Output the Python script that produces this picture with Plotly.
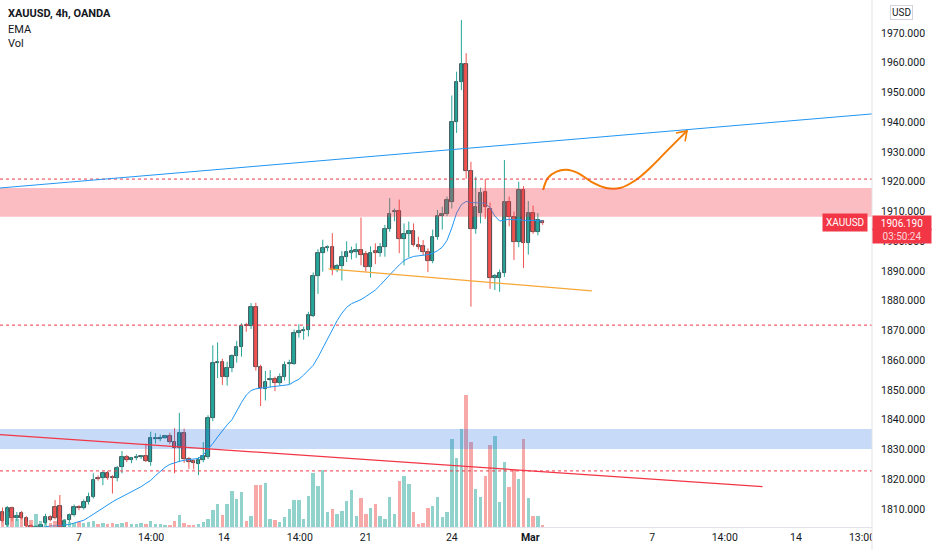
import plotly.graph_objects as go

# XAUUSD 4h bars, x = bar number from the left edge of the chart
opens = [
    1809, 1804.5, 1810.3, 1807, 1808.6, 1807, 1804.2, 1803.2, 1804, 1805.3,
    1807.3, 1810.7, 1811, 1804, 1806.3, 1808, 1810.7, 1810.3, 1812.3, 1814,
    1820.4, 1820.4, 1822, 1820.8, 1820.4, 1824, 1827.5, 1826.6, 1827.1, 1827.5,
    1827.8, 1825.8, 1833.5, 1833.6, 1834, 1834.5, 1832.5, 1830.5, 1835.6, 1826.8,
    1826, 1825.1, 1826.5, 1827.5, 1840.5, 1859, 1859.4, 1854.4, 1857.4, 1861.4,
    1864.4, 1871.9, 1871.5, 1877.9, 1857.6, 1850.3, 1853.2, 1853.7, 1852.4, 1854.4,
    1858.6, 1858.7, 1869.3, 1869.7, 1870.2, 1874.9, 1888.3, 1896, 1897.7, 1898,
    1890.3, 1891.7, 1894.7, 1896, 1896.4, 1897, 1895.7, 1891.4, 1896.6, 1896,
    1898, 1904.1, 1909.7, 1910.2, 1900.8, 1902.4, 1903.4, 1898.7, 1898.4, 1896.4,
    1893.4, 1901.4, 1908.5, 1909.2, 1913.3, 1940.2, 1953.6, 1959.5, 1923.7, 1904,
    1909.4, 1916.7, 1910.7, 1887.8, 1887.5, 1889.2, 1913.3, 1908.3, 1899.8, 1917.2,
    1899.3, 1909.6, 1903.2, 1906.7,
]
highs = [
    1810.5, 1811, 1810.8, 1809, 1809.3, 1807.6, 1805, 1804.6, 1805, 1808.4,
    1807.9, 1813, 1814.7, 1806.5, 1808.5, 1811.5, 1811.3, 1813.2, 1815.5, 1822,
    1821.3, 1822.6, 1822.8, 1821.4, 1824.5, 1829.5, 1828.2, 1827.5, 1828.5, 1828.1,
    1832, 1836, 1835.5, 1835, 1834.9, 1835.6, 1837.2, 1842.3, 1837, 1827.5,
    1826.6, 1827.5, 1832.5, 1841.5, 1865, 1866, 1860.5, 1859.5, 1862, 1866.5,
    1872.4, 1872.6, 1879.2, 1879.3, 1858.5, 1856.4, 1856.7, 1854.5, 1855.6, 1859.6,
    1860.2, 1870.3, 1872.1, 1871.3, 1876.3, 1889.5, 1897.3, 1900.5, 1898.6, 1902.7,
    1892.4, 1896.7, 1900, 1898.2, 1899.3, 1908, 1896.7, 1898.3, 1899.3, 1899.4,
    1905.5, 1914.5, 1911, 1914, 1906, 1906.6, 1906, 1901.5, 1900.4, 1897.6,
    1903.9, 1910.5, 1911.6, 1915, 1949, 1957, 1974.4, 1963.2, 1926.7, 1921.7,
    1918, 1921, 1913, 1889, 1890.5, 1927.3, 1915, 1910, 1920, 1918.5,
    1913.5, 1912, 1909.5, 1907,
]
lows = [
    1805.5, 1804, 1805.8, 1806, 1806.5, 1803.5, 1802.5, 1802.8, 1803.6, 1804.8,
    1805.8, 1806.5, 1803.5, 1803.5, 1805.5, 1807.5, 1809.6, 1809.8, 1811.5, 1813.5,
    1819.5, 1818, 1819.8, 1815.2, 1819.3, 1822, 1825.8, 1825.4, 1826.4, 1826.8,
    1825.8, 1824.5, 1832, 1832.8, 1833.6, 1831.8, 1822, 1825.8, 1825.5, 1823.5,
    1823.3, 1821.4, 1825.7, 1826.8, 1839.5, 1854, 1851.7, 1851.5, 1856, 1859.2,
    1861.2, 1869.6, 1870.5, 1856.5, 1844.6, 1846.5, 1850.9, 1849.6, 1851.5, 1853.2,
    1852, 1858.5, 1867.6, 1866.9, 1868, 1874.5, 1882.3, 1889.8, 1896.6, 1888.6,
    1889.6, 1886.8, 1893, 1893.9, 1894.4, 1891.9, 1889.8, 1887.8, 1892.3, 1894.8,
    1894.8, 1903.2, 1906.7, 1896, 1891.9, 1894.6, 1898.2, 1897.2, 1895.3, 1889.6,
    1892.6, 1900.5, 1903.9, 1908.4, 1911, 1936.4, 1950.8, 1921, 1878, 1902.5,
    1906, 1907.5, 1884, 1883.6, 1883, 1888, 1905, 1893.7, 1898, 1891,
    1895.5, 1902.5, 1902, 1905.5,
]
closes = [
    1806, 1810.3, 1807, 1807.6, 1807, 1804.2, 1803.2, 1804, 1804.6, 1807.3,
    1806.3, 1807, 1804, 1806, 1808, 1810.7, 1810.3, 1812.3, 1814, 1819.7,
    1820, 1822, 1820.4, 1820.4, 1823.8, 1827.5, 1826.5, 1827.1, 1827.5, 1827.8,
    1826.2, 1833.9, 1833.9, 1834, 1834.5, 1832.5, 1830.5, 1835.6, 1826.8, 1825.8,
    1825.5, 1826.5, 1827.8, 1840.6, 1859, 1859.4, 1854.4, 1857.4, 1861.4, 1864.4,
    1871.5, 1871.4, 1877.9, 1857.6, 1850.6, 1852.8, 1853.7, 1852.4, 1854.4, 1858.4,
    1859.1, 1869.2, 1869.8, 1870.2, 1875.2, 1888.3, 1896, 1897.7, 1898.1, 1890.3,
    1891.7, 1894.7, 1896.4, 1896.7, 1897, 1895.4, 1891.4, 1896, 1896.1, 1898,
    1904, 1909.2, 1910.1, 1900.8, 1902.4, 1903.4, 1898.7, 1898, 1896.4, 1893.4,
    1901.4, 1908.5, 1909.2, 1913.9, 1940.2, 1953.6, 1959.5, 1923.7, 1904.1, 1911.5,
    1916.3, 1911.6, 1887.5, 1888.3, 1889.2, 1913.3, 1908.3, 1899.8, 1917.2, 1899.3,
    1909.4, 1903.2, 1907.1, 1906.19,
]
volumes = [
    12, 15, 10, 8, 9, 6, 7, 13, 6, 5,
    4, 6, 9, 8, 5, 4, 5, 4, 5, 6,
    3, 4, 3, 4, 3, 4, 5, 3, 3, 4,
    3, 6, 3, 3, 2, 2, 6, 12, 4, 2,
    2, 3, 5, 8.4, 16.7, 22.7, 11.7, 22.7, 36, 28.4,
    35, 6, 10.7, 42.4, 41.7, 44, 8.4, 7.4, 5, 10,
    18.4, 27.4, 26.7, 8, 30.7, 54, 40.7, 57.4, 15, 18.4,
    12.7, 16, 26, 36.7, 10.7, 29.4, 13.4, 19.4, 23, 10.7,
    8, 30, 13.4, 46, 51, 42.7, 14.7, 3.4, 4, 18.7,
    21.4, 30, 10, 15, 88.4, 69.4, 97.7, 131.7, 85, 37.7,
    30, 51, 82.4, 91, 25, 64.7, 40, 58.4, 48.4, 87.7,
    29, 11.4, 10.7, 1.7,
]
ema = [
    1800.5, 1801, 1801.5, 1802, 1802.4, 1802.8, 1803.1, 1803.4, 1803.7, 1804.2,
    1804.3, 1804.3, 1804.4, 1804.5, 1804.8, 1805.3, 1805.8, 1806.2, 1807.2, 1808.3,
    1809.3, 1810.4, 1811.4, 1812.4, 1813.3, 1814.1, 1814.9, 1815.7, 1816.6, 1817.5,
    1818.6, 1819.6, 1821.2, 1822.7, 1824, 1825, 1825.6, 1826, 1826.4, 1826.6,
    1826.8, 1827, 1828.2, 1830, 1832, 1834.2, 1836.4, 1838.3, 1840, 1843,
    1845.8, 1848.3, 1849.8, 1850.4, 1850.6, 1850.8, 1850.9, 1851.1, 1851.3, 1851.6,
    1851.8, 1852.8, 1853.6, 1855, 1856.5, 1858.3, 1861, 1864, 1867, 1870.5,
    1873.3, 1875.8, 1877.8, 1879, 1879.6, 1880.4, 1881.4, 1882.5, 1883.6, 1885.2,
    1887, 1888.8, 1890.4, 1892, 1893.5, 1894.3, 1894.9, 1895.1, 1895.3, 1895.5,
    1896, 1896.8, 1898, 1900.3, 1904.5, 1909.5, 1912.3, 1913.4, 1913, 1912.9,
    1912.8, 1912.8, 1911.2, 1908.5, 1906.8, 1907, 1907.4, 1907.2, 1907.3, 1907,
    1907.1, 1907, 1906.9, 1906.8,
]

# time axis labels (bar number -> label)
tick_idx = [16.0, 31.1, 46.3, 62.2, 76.0, 94.0, 110.4, 135.9, 151.1, 166.0, 179.8]
tick_text = ["7", "14:00", "14", "14:00", "21", "24", "<b>Mar</b>", "7", "14:00", "14", "13:00"]

# drawings
zone_resistance = [1908.2, 1917.9]
zone_support = [1830.2, 1836.9]
dotted_levels = [1920.9, 1871.8, 1822.8]
blue_trend_idx = [-0.52, 181.9]
blue_trend_price = [1917.9, 1942.8]
red_trend_idx = [-0.52, 159.0]
red_trend_price = [1835.0, 1817.5]
orange_trend_idx = [68.2, 123.3]
orange_trend_price = [1890.7, 1883.3]
path_idx = [113.1, 114.1, 115.8, 117.9, 120.4, 123.3, 126.3, 129.2, 132.5, 135.9, 139.2, 143.2]
path_price = [1917.2, 1921.3, 1923.3, 1924.0, 1922.9, 1919.9, 1917.9, 1917.9, 1920.6, 1925.3, 1930.7, 1937.1]
head_idx = [140.9, 143.2, 142.8]
head_price = [1936.4, 1937.1, 1933.6]

last_price = 1906.19
countdown = "03:50:24"

UP = "#26a69a"
DOWN = "#ef5350"
W, H = 932, 550
PLOT_R = 872 / W
PLOT_B = 23 / H

n = len(opens)
xs = list(range(n))
is_up = [c >= o for o, c in zip(opens, closes)]

fig = go.Figure()

# volume (own hidden scale, overlaid at the bottom)
fig.add_trace(go.Bar(
    x=xs, y=volumes, yaxis="y2", width=0.72,
    marker=dict(color=["rgba(38,166,154,0.5)" if u else "rgba(239,83,80,0.5)" for u in is_up],
                line=dict(width=0)),
    hoverinfo="skip",
))

# wicks
for flag, col in ((True, UP), (False, DOWN)):
    wx, wy = [], []
    for i in range(n):
        if is_up[i] == flag:
            wx += [i, i, None]
            wy += [lows[i], highs[i], None]
    fig.add_trace(go.Scatter(x=wx, y=wy, mode="lines", line=dict(color=col, width=1),
                             hoverinfo="skip"))

# bodies
fig.add_trace(go.Bar(
    x=xs,
    base=[min(o, c) for o, c in zip(opens, closes)],
    y=[max(abs(c - o), 0.3) for o, c in zip(opens, closes)],
    width=0.74,
    marker=dict(color=[UP if u else DOWN for u in is_up],
                line=dict(color="#263238", width=0.8)),
    hoverinfo="skip",
))

# EMA
fig.add_trace(go.Scatter(x=xs, y=ema, mode="lines", line=dict(color="#2196f3", width=1)))

# hand-drawn orange arrow
fig.add_trace(go.Scatter(x=path_idx, y=path_price, mode="lines",
                         line=dict(color="#f57c00", width=2, shape="spline")))
fig.add_trace(go.Scatter(x=head_idx, y=head_price, mode="lines",
                         line=dict(color="#f57c00", width=1.6)))

shapes = [
    dict(type="rect", xref="x domain", x0=0, x1=1, yref="y",
         y0=zone_resistance[0], y1=zone_resistance[1],
         fillcolor="rgba(242,54,69,0.33)", line=dict(width=0), layer="above"),
    dict(type="rect", xref="x domain", x0=0, x1=1, yref="y",
         y0=zone_support[0], y1=zone_support[1],
         fillcolor="rgba(33,110,230,0.25)", line=dict(width=0), layer="above"),
]
for lvl in dotted_levels:
    shapes.append(dict(type="line", xref="x domain", x0=0, x1=1, yref="y", y0=lvl, y1=lvl,
                       line=dict(color="#f23645", width=1, dash="dot"), layer="above"))
shapes += [
    dict(type="line", xref="x", yref="y", x0=blue_trend_idx[0], x1=blue_trend_idx[1],
         y0=blue_trend_price[0], y1=blue_trend_price[1],
         line=dict(color="#2196f3", width=1), layer="above"),
    dict(type="line", xref="x", yref="y", x0=red_trend_idx[0], x1=red_trend_idx[1],
         y0=red_trend_price[0], y1=red_trend_price[1],
         line=dict(color="#f23645", width=1.3), layer="above"),
    dict(type="line", xref="x", yref="y", x0=orange_trend_idx[0], x1=orange_trend_idx[1],
         y0=orange_trend_price[0], y1=orange_trend_price[1],
         line=dict(color="#f7a738", width=1.3), layer="above"),
    # hide the time labels under the price scale
    dict(type="rect", xref="paper", yref="paper", x0=PLOT_R, x1=1, y0=0, y1=PLOT_B,
         fillcolor="white", line=dict(width=0), layer="above"),
    dict(type="line", xref="paper", yref="paper", x0=PLOT_R, x1=PLOT_R, y0=0, y1=1,
         line=dict(color="#e0e3eb", width=1), layer="above"),
]

txt = dict(family="Roboto, Arial, sans-serif", color="#131722")
annotations = [
    dict(text="<b>XAUUSD, 4h, OANDA</b>", x=6 / W, y=1 - 13 / H),
    dict(text="EMA", x=6 / W, y=1 - 29 / H),
    dict(text="Vol", x=6 / W, y=1 - 44 / H),
]
for a in annotations:
    a.update(xref="paper", yref="paper", xanchor="left", yanchor="middle",
             showarrow=False, font=dict(size=11, **txt))
annotations += [
    dict(text="USD", xref="paper", yref="paper", x=901 / W, y=1 - 12 / H,
         xanchor="center", yanchor="middle", showarrow=False,
         font=dict(size=10, **txt), bgcolor="white", bordercolor="#d1d4dc",
         borderwidth=1, borderpad=1),
    dict(text="XAUUSD", xref="paper", yref="y", x=868 / W, y=last_price,
         xanchor="right", yanchor="middle", showarrow=False,
         font=dict(size=10, family=txt["family"], color="white"),
         bgcolor="#f23645", borderpad=3),
    dict(text=f"{last_price:.3f}", xref="paper", yref="y", x=PLOT_R, y=last_price,
         xanchor="left", yanchor="middle", showarrow=False, width=56, height=12,
         font=dict(size=10, family=txt["family"], color="white"),
         bgcolor="#f23645", borderpad=1, yshift=0),
    dict(text=countdown, xref="paper", yref="y", x=PLOT_R, y=last_price,
         xanchor="left", yanchor="middle", showarrow=False, width=56, height=12,
         font=dict(size=10, family=txt["family"], color="rgba(255,255,255,0.8)"),
         bgcolor="#f23645", borderpad=1, yshift=-13),
]

fig.update_layout(
    width=W, height=H,
    margin=dict(l=0, r=0, t=0, b=0),
    paper_bgcolor="white", plot_bgcolor="white",
    showlegend=False, barmode="overlay", bargap=0,
    shapes=shapes, annotations=annotations,
    xaxis=dict(domain=[0, PLOT_R], range=[-0.52, 181.9], tickvals=tick_idx, ticktext=tick_text,
               showgrid=False, zeroline=False, showline=True, linecolor="#e0e3eb",
               ticks="", tickfont=dict(size=10.5, **txt), automargin=False),
    yaxis=dict(domain=[PLOT_B, 1], range=[1803.95, 1981.09], side="right",
               tick0=1810, dtick=10, tickformat=".3f", showgrid=False, zeroline=False,
               showline=False, ticks="", ticklabelstandoff=8,
               tickfont=dict(size=10.5, **txt), automargin=False),
    yaxis2=dict(domain=[PLOT_B, 1], range=[0, 527], overlaying="y", visible=False),
)

# drop the default page margin so the chart sits at the window's top-left corner
fig.write_html(
    "out.html",
    config={"displayModeBar": False},
    post_script="document.body.style.margin='0';document.body.style.overflow='hidden';",
)
